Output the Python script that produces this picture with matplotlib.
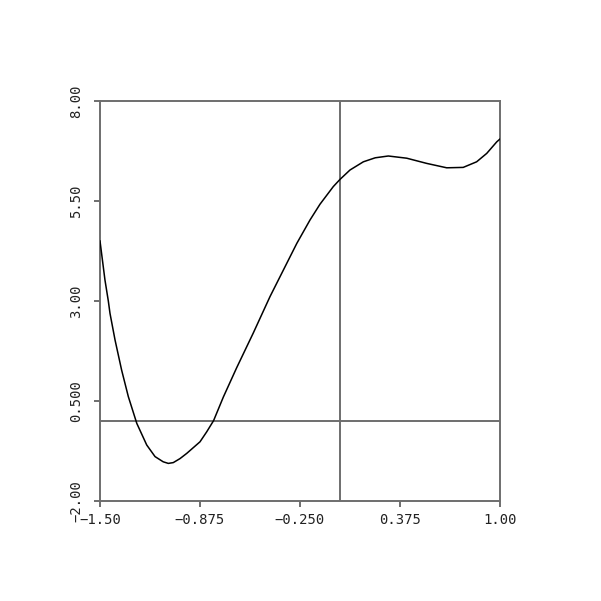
import matplotlib
matplotlib.use("Agg")
import matplotlib.pyplot as plt

# curve
x_vals = [-1.5, -1.469, -1.448, -1.4375, -1.406, -1.365, -1.323, -1.27,
          -1.208, -1.156, -1.105, -1.073, -1.042, -1.0, -0.958,
          -0.875, -0.833, -0.79, -0.729, -0.646, -0.542, -0.4375, -0.333,
          -0.27, -0.1875, -0.125, -0.042, 0.0, 0.0625, 0.146, 0.22, 0.302,
          0.417, 0.542, 0.667, 0.77, 0.854, 0.917, 0.98, 1.0]
y_vals = [4.5, 3.525, 3.0, 2.69, 2.025, 1.275, 0.61, -0.06,
          -0.6, -0.89, -1.02, -1.06, -1.04, -0.94, -0.81,
          -0.52, -0.27, 0.01, 0.6, 1.33, 2.2, 3.11, 3.94,
          4.44, 5.025, 5.42, 5.86, 6.04, 6.275, 6.48, 6.58, 6.625,
          6.57, 6.44, 6.33, 6.34, 6.48, 6.69, 6.98, 7.05]

x_ticks = [-1.5, -0.875, -0.25, 0.375, 1.0]
x_labels = ["\u22121.50", "\u22120.875", "\u22120.250", "0.375", "1.00"]
y_ticks = [-2.0, 0.5, 3.0, 5.5, 8.0]
y_labels = ["\u22122.00", "0.500", "3.00", "5.50", "8.00"]

gray = "#6e6e6e"
W = 601
fig = plt.figure(figsize=(W / 100, W / 100), dpi=100)
ax = fig.add_axes([100 / W, 100 / W, 400 / W, 400 / W])

ax.plot(x_vals, y_vals, color="black", lw=1.1, zorder=3)
ax.axhline(0, color=gray, lw=1.4, zorder=2)
ax.axvline(0, color=gray, lw=1.4, zorder=2)

ax.set_xlim(-1.5, 1.0)
ax.set_ylim(-2.0, 8.0)
for s in ax.spines.values():
    s.set_color(gray)
    s.set_linewidth(1.4)

ax.set_xticks(x_ticks)
ax.set_xticklabels(x_labels)
ax.set_yticks(y_ticks)
ax.set_yticklabels(y_labels, rotation=90, va="center")
ax.tick_params(direction="out", length=4, width=1.4, color=gray,
               labelsize=10, labelcolor="#222222", pad=5)
ax.tick_params(axis="y", pad=8)
for lab in ax.get_xticklabels() + ax.get_yticklabels():
    lab.set_family("DejaVu Sans Mono")

fig.savefig("out.png", dpi=100, facecolor="white")
